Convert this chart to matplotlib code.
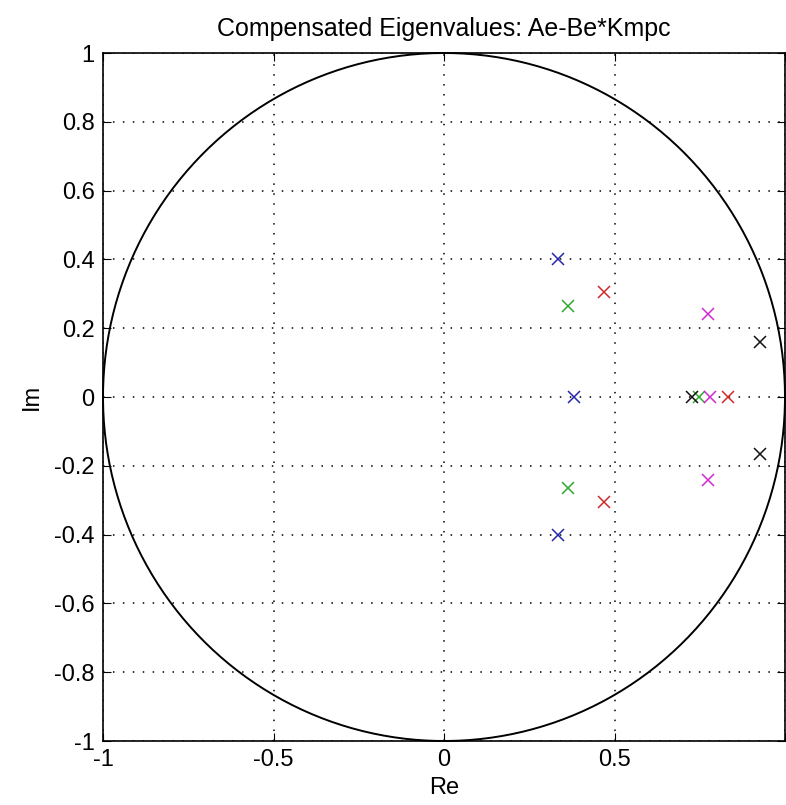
import numpy as np
import matplotlib.pyplot as plt

plt.rcParams['font.family'] = ['Liberation Sans', 'DejaVu Sans']

# eigenvalues, grouped by colour
blue_re = [0.335, 0.335, 0.382]
blue_im = [0.40, -0.40, 0.0]
green_re = [0.365, 0.365, 0.747]
green_im = [0.265, -0.265, 0.0]
red_re = [0.47, 0.47, 0.832]
red_im = [0.306, -0.306, 0.0]
magenta_re = [0.773, 0.773, 0.78]
magenta_im = [0.24, -0.24, 0.0]
black_re = [0.927, 0.927, 0.727]
black_im = [0.16, -0.165, 0.0]

xticks = [-1, -0.5, 0, 0.5, 1]
yticks = [-1, -0.8, -0.6, -0.4, -0.2, 0, 0.2, 0.4, 0.6, 0.8, 1]

fig = plt.figure(figsize=(7.86, 8.05), dpi=100)
ax = fig.add_axes([103/786, 64/805, 682/786, 688/805])

# unit circle
t = np.linspace(0, 2*np.pi, 400)
ax.plot(np.cos(t), np.sin(t), color='black', linewidth=1.4, clip_on=False)

series = [
    (blue_re, blue_im, '#2626b0'),
    (green_re, green_im, '#2faa2f'),
    (red_re, red_im, '#d02a2a'),
    (magenta_re, magenta_im, '#d02ad0'),
    (black_re, black_im, '#111111'),
]
for re, im, c in series:
    ax.plot(re, im, linestyle='none', marker='x', color=c, markersize=8, markeredgewidth=1.1)

ax.set_xlim(-1, 1)
ax.set_ylim(-1, 1)
ax.set_xticks(xticks)
ax.set_xticklabels(['-1', '-0.5', '0', '0.5', ''])
ax.set_yticks(yticks)
ax.set_yticklabels(['-1', '-0.8', '-0.6', '-0.4', '-0.2', '0', '0.2', '0.4', '0.6', '0.8', '1'])
ax.grid(True, color='black', linestyle=(0, (1, 5.5)), linewidth=1.1)
ax.tick_params(direction='in', top=True, right=True, length=6, labelsize=17, pad=6)
for s in ax.spines.values():
    s.set_linewidth(1.2)

ax.set_title('Compensated Eigenvalues: Ae-Be*Kmpc', fontsize=18, pad=12)
ax.set_xlabel('Re', fontsize=17, labelpad=4)
ax.set_ylabel('Im', fontsize=17, labelpad=8)

plt.savefig('out.png', dpi=100)
plt.close()
